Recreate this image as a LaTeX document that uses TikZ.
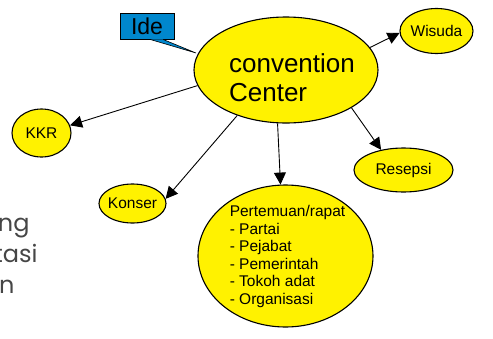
\documentclass[tikz,border=0pt]{standalone}
\usepackage{fontspec}
\setmainfont{Liberation Sans}
\newfontfamily\gothic{Poppins}
\usetikzlibrary{shapes,arrows.meta}
\definecolor{bubblefill}{RGB}{255,242,0}
\definecolor{idefill}{RGB}{0,135,205}
\definecolor{sidegray}{RGB}{70,70,70}

\begin{document}
\begin{tikzpicture}[x=1pt, y=-1pt, line width=0.9pt,
        >={Triangle[length=12pt,width=12pt]}]
      \tikzstyle{bubble} = [ellipse, draw=black, fill=bubblefill, line width=1.1pt,
                            inner xsep=-1pt, inner ysep=0pt,
                            font=\fontsize{15.5}{17.6}\selectfont]
      \tikzstyle{bigword} = [font=\fontsize{26}{29}\selectfont, align=left]
      \tikzstyle{listword} = [font=\fontsize{15.5}{17.6}\selectfont, align=left]
      \tikzstyle{sideword} = [font=\gothic\fontsize{24}{30}\selectfont, color=sidegray, anchor=base east, inner sep=0pt]
      \useasboundingbox (0,0) rectangle (493,338);
      % centre and the ones around it
      \node (Center) [bubble, minimum width=184pt, minimum height=106pt] at (286,70) {};
      \node (CenterText) [bigword] at (292,77.5) {convention\\Center};
      \node (Wisuda) [bubble, minimum width=73pt, minimum height=45pt] at (436.5,31) {Wisuda};
      \node (KKR) [bubble, minimum width=59pt, minimum height=48pt] at (41.5,133) {KKR};
      \node (Konser) [bubble, minimum width=67pt, minimum height=39pt] at (132.5,203.5) {Konser};
      \node (Resepsi) [bubble, minimum width=99pt, minimum height=44pt] at (403.5,170) {Resepsi};
      \node (Rapat) [bubble, minimum width=175pt, minimum height=142pt] at (285.5,256) {};
      \node (RapatText) [listword] at (287.5,256.5)
        {Pertemuan/rapat\\- Partai\\- Pejabat\\- Pemerintah\\- Tokoh adat\\- Organisasi};
      \draw[->] (Center.15) -- (Wisuda.183);
      \draw[->] (Center.330) -- (Resepsi.138);
      \draw[->] (Center.261) -- (Rapat.94);
      \draw[->] (Center.223) -- (Konser.8);
      \draw[->] (Center.190) -- (KKR.15);
      % callout
      \node (Ide) [rectangle, draw=black, fill=idefill, line width=0.8pt, inner sep=0pt,
                   minimum width=54pt, minimum height=26pt,
                   font=\fontsize{23}{26}\selectfont] at (147,26) {Ide};
      \coordinate (IdeTip) at (196,53);
      \filldraw[fill=idefill, draw=black, line width=0.6pt]
        ([xshift=3pt]Ide.south) -- (IdeTip) -- ([xshift=16pt]Ide.south);
      % cut off words at the left
      \node (SideA) [sideword] at (30,231) {ng};
      \node (SideB) [sideword] at (38,262) {tasi};
      \node (SideC) [sideword] at (15,293) {n};
    \end{tikzpicture}
\end{document}
